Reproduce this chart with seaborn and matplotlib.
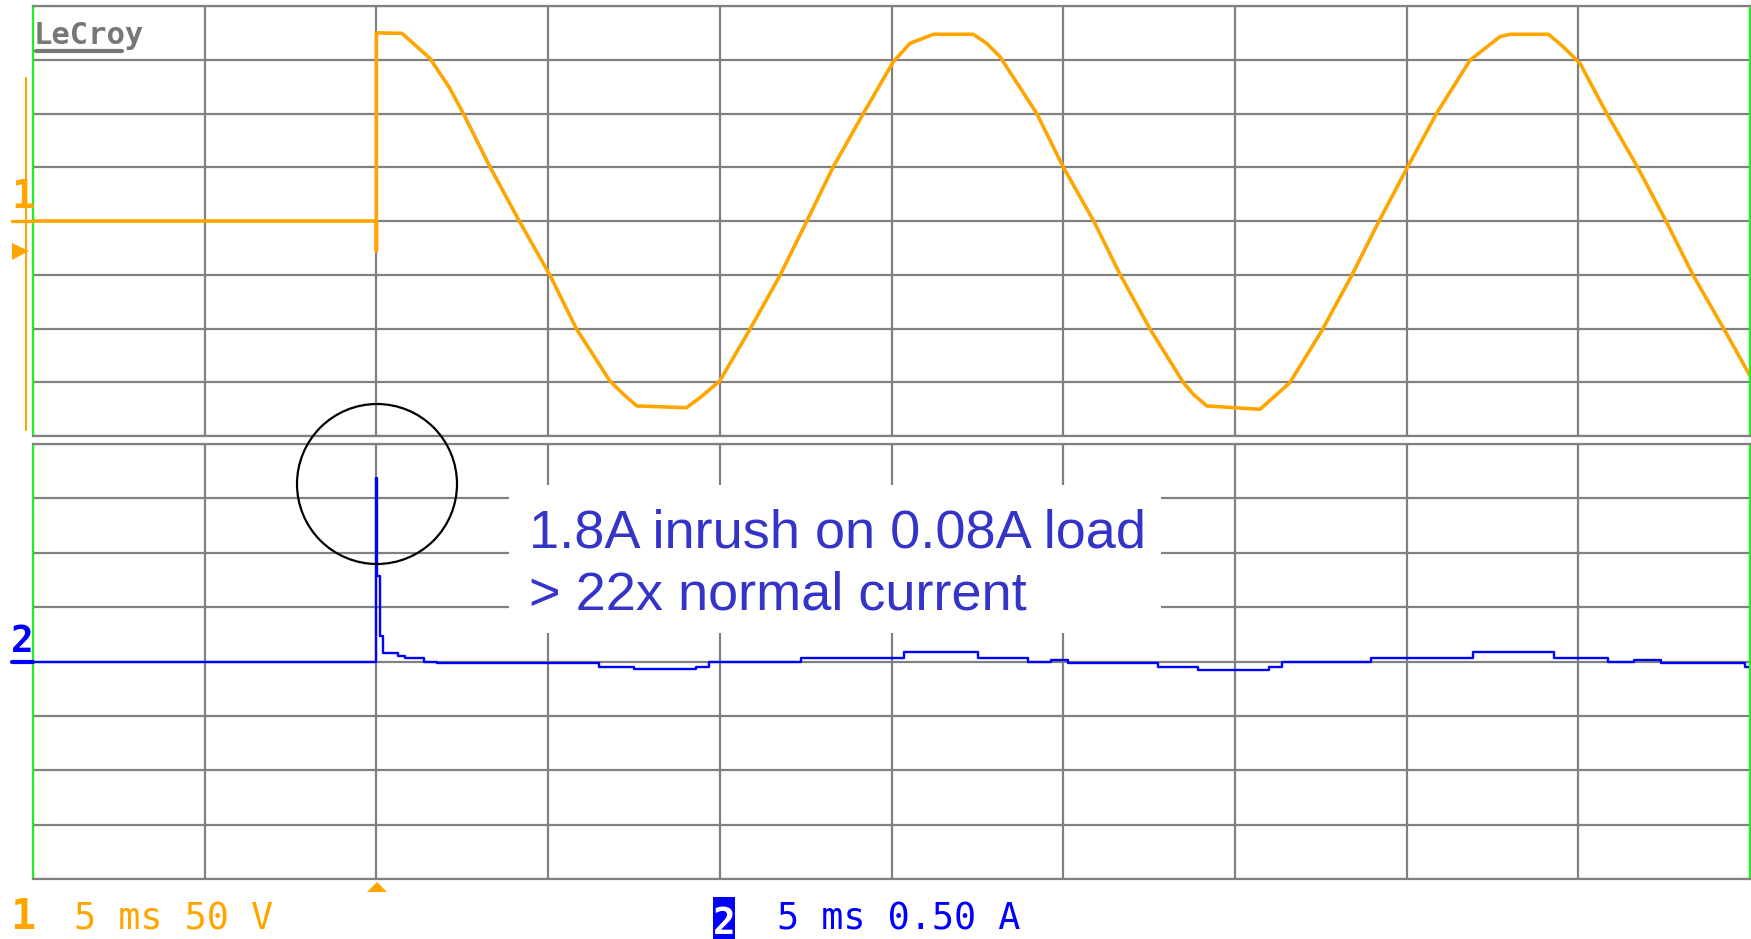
import matplotlib.pyplot as plt
import matplotlib.patches as mpatches
import numpy as np
import seaborn as sns

# --- Channel 1: mains voltage (V) ---
ch1_time = [0, 10.0, 10.0, 10.0, 10.74, 11.07, 11.56, 12.14, 12.53, 13.31,
            14.18, 15.06, 15.83, 16.80, 17.19, 17.58, 19.03, 19.42, 20.0, 20.88,
            21.75, 22.55, 23.30, 24.18, 25.05, 25.54, 26.22, 27.38, 27.77, 28.16,
            29.23, 30.0, 30.88, 31.65, 32.53, 33.50, 33.79, 34.18, 35.73, 36.11,
            36.60, 37.53, 38.40, 39.18, 40.0, 40.87, 41.85, 42.72, 43.01, 44.13,
            44.56, 45.05, 45.83, 46.75, 47.57, 48.35, 49.27, 50.0]
ch1_volts = [0, 0, -28, 175, 174.6, 165.3, 151.3, 123.3, 100, 50.2,
             -1.1, -50.8, -100.6, -148.8, -161, -172, -173.7, -164.4, -148.8, -100.6,
             -50.8, 1.0, 50.2, 100, 148.1, 165.3, 173.7, 173.7, 165.3, 152.8,
             100, 50.2, 0.5, -49.3, -100.6, -150.4, -161.2, -172, -175.2, -164.4,
             -150.4, -102.1, -50.8, -1.1, 48.5, 100, 149.7, 171.5, 173.7, 173.7,
             162.1, 146.6, 100, 48.7, -1.1, -50.8, -102.1, -144]

# --- Channel 2: load current (A), stepped trace ---
ch2_time = [0, 10.0, 10.03, 10.1, 10.19, 10.63, 10.83, 11.39, 11.77, 16.48,
            17.50, 19.31, 19.68, 22.36, 25.36, 27.52, 28.98, 29.65, 30.14, 32.76,
            33.92, 35.99, 36.37, 38.96, 41.93, 44.29, 45.86, 46.62, 47.40, 49.85,
            50.0]
ch2_amps = [0, 1.69, 0.79, 0.23, 0.074, 0.052, 0.028, 0, -0.018, -0.049,
            -0.071, -0.049, 0, 0.028, 0.083, 0.028, 0, 0.01, -0.015, -0.049,
            -0.074, -0.049, 0, 0.028, 0.083, 0.028, 0, 0.018, -0.018, -0.05,
            -0.05]

time_div = 5      # ms / div
volt_div = 50     # V / div
amp_div = 0.5     # A / div

note_lines = ["1.8A inrush on 0.08A load", "> 22x normal current"]
ch1_label = "5 ms 50 V"
ch2_label = "5 ms 0.50 A"

ORANGE = "#ffa500"
BLUE = "#0000ff"
TEXT_BLUE = "#3434c8"
GRID = "#808080"
GREEN = "#22ee22"

W, H = 1751, 939


def px(x, y):
    # screen pixel -> figure fraction
    return x / W, 1 - y / H


sns.set_style("white")
fig = plt.figure(figsize=(W / 100, H / 100), dpi=100)


def scope_axes(top, bottom, per_div):
    l, t = px(33, top)
    r, b = px(1750, bottom)
    ax = fig.add_axes([l, b, r - l, t - b])
    ax.set_xlim(0, 10 * time_div)
    ax.set_ylim(-4 * per_div, 4 * per_div)
    ax.set_xticks(np.arange(0, 10 * time_div + 0.01, time_div))
    ax.set_yticks(np.arange(-4, 5) * per_div)
    ax.grid(True, color=GRID, lw=1.6)
    ax.set_axisbelow(True)
    ax.tick_params(length=0, labelleft=False, labelbottom=False)
    for s in ax.spines.values():
        s.set_color(GRID)
        s.set_linewidth(1.6)
    ax.spines["left"].set_color(GREEN)
    ax.spines["right"].set_color(GREEN)
    return ax


ax1 = scope_axes(6, 436, volt_div)
ax2 = scope_axes(444, 879, amp_div)

sns.lineplot(x=ch1_time, y=ch1_volts, ax=ax1, color=ORANGE, lw=2.6,
             sort=False, estimator=None)
sns.lineplot(x=ch2_time, y=ch2_amps, ax=ax2, color=BLUE, lw=1.7,
             sort=False, estimator=None, drawstyle="steps-post")
for ax in (ax1, ax2):
    ax.set_xlabel("")
    ax.set_ylabel("")

# --- annotation box + circle around the inrush spike ---
x0, y0 = px(509, 633)
fig.add_artist(mpatches.Rectangle((x0, y0), 652 / W, 148 / H, transform=fig.transFigure,
                                  facecolor="white", edgecolor="none"))
fig.text(*px(529, 547), note_lines[0], fontsize=39, family="Liberation Sans",
         color=TEXT_BLUE, va="baseline", ha="left")
fig.text(*px(529, 609), note_lines[1], fontsize=39, family="Liberation Sans",
         color=TEXT_BLUE, va="baseline", ha="left")
fig.add_artist(mpatches.Ellipse(px(377, 484), 160 / W, 160 / H, transform=fig.transFigure,
                                fill=False, edgecolor="black", lw=1.6))

# --- scope decorations ---
mono = "DejaVu Sans Mono"
fig.text(*px(34, 44), "LeCroy", fontsize=22, family=mono, weight="bold",
         color="#777777", va="baseline")
fig.add_artist(plt.Line2D([36 / W, 122 / W], [1 - 51 / H] * 2, color="#777777", lw=3))

# channel 1 markers on the left edge
fig.add_artist(plt.Line2D([26 / W] * 2, [1 - 78 / H, 1 - 430 / H], color=ORANGE, lw=1.5))
fig.add_artist(plt.Line2D([12 / W, 33 / W], [1 - 221 / H] * 2, color=ORANGE, lw=2.4))
fig.text(*px(11, 208), "1", fontsize=28, family=mono, weight="bold",
         color=ORANGE, va="baseline")
fig.add_artist(mpatches.Polygon([px(12, 243), px(29, 251), px(12, 260)],
                                closed=True, transform=fig.transFigure,
                                facecolor=ORANGE, edgecolor="none"))

# channel 2 marker
fig.text(*px(11, 652), "2", fontsize=27, family=mono, weight="bold",
         color=BLUE, va="baseline")
fig.add_artist(plt.Line2D([12 / W, 33 / W], [1 - 662 / H] * 2, color=BLUE, lw=3))

# trigger position marker
fig.add_artist(mpatches.Polygon([px(367, 892), px(377, 882), px(387, 892)],
                                closed=True, transform=fig.transFigure,
                                facecolor=ORANGE, edgecolor="none"))

# --- channel readouts at the bottom ---
fig.text(*px(10, 938), "1", fontsize=30, family=mono, weight="bold",
         color=ORANGE, va="bottom")
fig.text(*px(74, 930), ch1_label, fontsize=26.5, family=mono,
         color=ORANGE, va="baseline")
bx, by = px(713, 939)
fig.add_artist(mpatches.Rectangle((bx, by), 22 / W, 42 / H, transform=fig.transFigure,
                                  facecolor=BLUE, edgecolor="none"))
fig.text(*px(724, 934), "2", fontsize=27, family=mono, weight="bold",
         color="white", va="baseline", ha="center")
fig.text(*px(777, 930), ch2_label, fontsize=26.5, family=mono,
         color=BLUE, va="baseline")

fig.savefig("out.png", dpi=100)
